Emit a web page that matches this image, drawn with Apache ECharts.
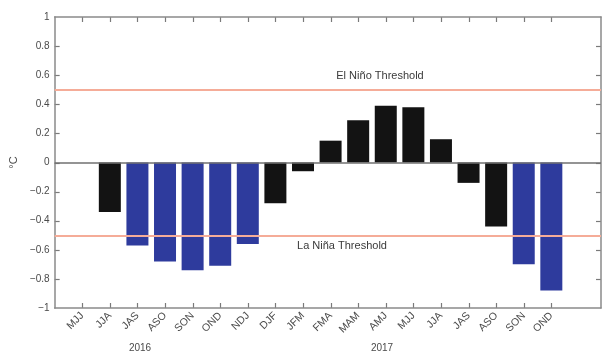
<!DOCTYPE html>
<html>
<head>
<meta charset="utf-8">
<script src="https://cdn.jsdelivr.net/npm/echarts@6/dist/echarts.min.js"></script>
<style>html,body{margin:0;padding:0;background:#fff;}#c{width:606px;height:353px;}</style>
</head>
<body>
<div id="c"></div>
<script>
const categories = ['MJJ','JJA','JAS','ASO','SON','OND','NDJ','DJF','JFM','FMA','MAM','AMJ','MJJ','JJA','JAS','ASO','SON','OND'];
const anomalies = [null,-0.34,-0.57,-0.68,-0.74,-0.71,-0.56,-0.28,-0.06,0.15,0.29,0.39,0.38,0.16,-0.14,-0.44,-0.70,-0.88];
const yearLabels = ['2016','2017'];
const thresholdValues = [0.5, -0.5];
const thresholdNames = ['El Niño Threshold','La Niña Threshold'];
const yTickValues = [-0.8,-0.6,-0.4,-0.2,0,0.2,0.4,0.6,0.8];

const positions = categories.map((c,i)=>i+1);
const fontFam = '"Liberation Sans", Arial, sans-serif';
const axisGray = '#8a8a8a';
const tickGray = '#7a7a7a';
const textGray = '#4a4a4a';

const chart = echarts.init(document.getElementById('c'));
function fmtY(v){
  const r = Math.round(v*10)/10;
  if (r === 0) return '0';
  const s = Math.abs(r).toString();
  return (r<0?'\u2212':'') + s;
}
function xBase(){
  return {
    type:'value', min:0, max:19.8,
    splitLine:{show:false},
    axisLine:{show:true, onZero:false, lineStyle:{color:axisGray, width:1.5}},
    axisTick:{show:false},
  };
}
function yBase(){
  return {
    type:'value', min:-1, max:1, interval:0.2,
    splitLine:{show:false},
    axisLine:{show:true, onZero:false, lineStyle:{color:axisGray, width:1.5}},
    axisTick:{show:false},
  };
}
const baseGraphics = [
  {type:'text', x:380, y:76, style:{text:thresholdNames[0], fill:'#3a3a3a', font:'11px '+fontFam, textAlign:'center', textVerticalAlign:'middle'}},
  {type:'text', x:342, y:246, style:{text:thresholdNames[1], fill:'#3a3a3a', font:'11px '+fontFam, textAlign:'center', textVerticalAlign:'middle'}},
  {type:'text', x:140, y:348, style:{text:yearLabels[0], fill:textGray, font:'10px '+fontFam, textAlign:'center', textVerticalAlign:'middle'}},
  {type:'text', x:382, y:348, style:{text:yearLabels[1], fill:textGray, font:'10px '+fontFam, textAlign:'center', textVerticalAlign:'middle'}}
];
chart.setOption({
  animation:false,
  grid:{left:52, right:5, top:17, bottom:45, containLabel:false},
  xAxis:[
    Object.assign(xBase(), {
      position:'bottom',
      axisLabel:{show:true, customValues:positions, rotate:45, margin:6, fontSize:10.5, color:textGray, fontFamily:fontFam,
        formatter:function(v){ return categories[Math.round(v)-1] || ''; }}
    }),
    Object.assign(xBase(), {position:'top', axisLabel:{show:false}})
  ],
  yAxis:[
    Object.assign(yBase(), {position:'left',
     axisLabel:{fontSize:10, color:textGray, fontFamily:fontFam, margin:5, formatter:fmtY},
     name:'°C', nameLocation:'middle', nameGap:34, nameRotate:90,
     nameTextStyle:{fontSize:11, color:textGray, fontFamily:fontFam}
    }),
    Object.assign(yBase(), {position:'right', axisLabel:{show:false}})
  ],
  series:[{
    type:'bar',
    xAxisIndex:0, yAxisIndex:0,
    barWidth:22,
    data: anomalies.map((v,i)=>[positions[i], v]),
    itemStyle:{color:function(p){ return p.value[1] <= -0.5 ? '#2e3b9d' : '#131313'; }},
    markLine:{
      silent:true, symbol:'none',
      label:{show:false},
      data:[
        {yAxis:0, lineStyle:{color:'#707070', width:1.5, type:'solid'}},
        {yAxis:thresholdValues[0], lineStyle:{color:'#f5ac98', width:2, type:'solid'}},
        {yAxis:thresholdValues[1], lineStyle:{color:'#f5ac98', width:2, type:'solid'}}
      ]
    }
  }],
  graphic: baseGraphics
});

// tick marks drawn from the axis scales
const L = 5;
const topY = chart.convertToPixel({yAxisIndex:0}, 1);
const botY = chart.convertToPixel({yAxisIndex:0}, -1);
const leftX = chart.convertToPixel({xAxisIndex:0}, 0);
const rightX = chart.convertToPixel({xAxisIndex:0}, 19.8);
const ticks = [];
const ls = {stroke:tickGray, lineWidth:1.2};
positions.forEach(p=>{
  const x = Math.round(chart.convertToPixel({xAxisIndex:0}, p)) + 0.5;
  ticks.push({type:'line', shape:{x1:x, y1:botY, x2:x, y2:botY-L}, style:ls, silent:true});
  ticks.push({type:'line', shape:{x1:x, y1:topY, x2:x, y2:topY+L}, style:ls, silent:true});
});
yTickValues.forEach(v=>{
  const y = Math.round(chart.convertToPixel({yAxisIndex:0}, v)) + 0.5;
  ticks.push({type:'line', shape:{x1:leftX, y1:y, x2:leftX+L, y2:y}, style:ls, silent:true});
  ticks.push({type:'line', shape:{x1:rightX, y1:y, x2:rightX-L, y2:y}, style:ls, silent:true});
});
chart.setOption({graphic: baseGraphics.concat(ticks)}, {replaceMerge:['graphic']});
</script>
</body>
</html>
